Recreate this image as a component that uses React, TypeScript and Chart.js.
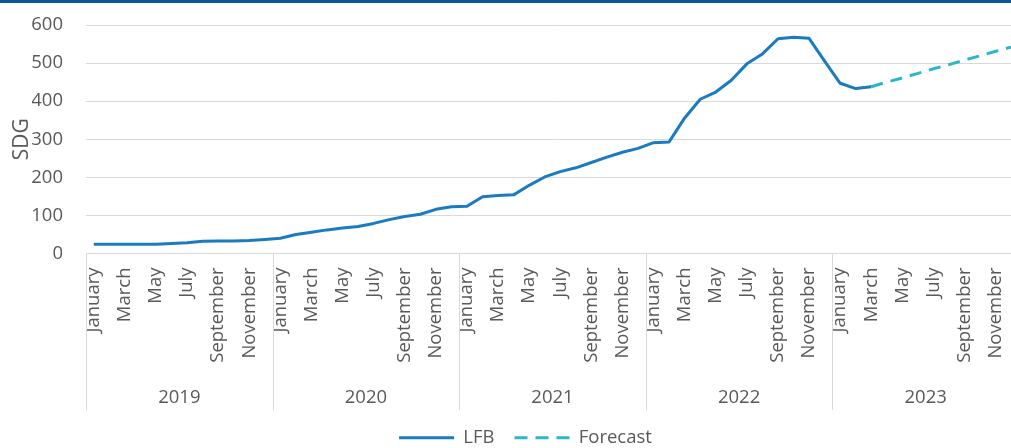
import React, { useEffect, useRef } from "react";
import { Chart, registerables } from "chart.js";

Chart.register(...registerables);

// ---- Data ----
const months = [
  "January", "February", "March", "April", "May", "June",
  "July", "August", "September", "October", "November", "December",
];
const years = ["2019", "2020", "2021", "2022", "2023"];

// LFB, January 2019 – March 2023
const lfbValues = [
  24, 24, 24, 24, 24, 26, 28, 32, 33, 33, 34, 37,
  40, 50, 56, 62, 67, 71, 79, 89, 97, 103, 116, 123,
  124, 149, 152, 154, 179, 201, 215, 225, 239, 253, 266, 276,
  291, 293, 356, 405, 424, 455, 498, 524, 564, 568, 565, 505,
  447, 433, 438,
];
// Forecast, March 2023 – December 2023
const forecastStartIndex = 50;
const forecastValues = [438, 450, 461, 473, 485, 496, 508, 519, 531, 542];

const yTicksMax = 600;
const yTicksStep = 100;

const LFB_COLOR = "#1a7bc1";
const FORECAST_COLOR = "#2bb7c8";
const TEXT_COLOR = "#595959";
const GRID_COLOR = "#d9d9d9";
const FONT = "'Open Sans', 'Noto Sans', sans-serif";
const FS = 18.5;

const yearGroupPlugin = {
  id: "yearGroups",
  afterDraw(chart: any) {
    const xs = chart.scales.x;
    const { ctx, chartArea } = chart;
    const n = xs.getLabels().length;
    const step = (xs.getPixelForValue(n - 1) - xs.getPixelForValue(0)) / (n - 1);
    const top = chartArea.bottom;
    ctx.save();
    ctx.strokeStyle = GRID_COLOR;
    ctx.lineWidth = 1;
    for (let k = 0; k <= years.length; k++) {
      const x =
        k * 12 < n
          ? xs.getPixelForValue(k * 12) - step / 2
          : xs.getPixelForValue(n - 1) + step / 2;
      const xr = Math.round(x) + 0.5;
      ctx.beginPath();
      ctx.moveTo(xr, top);
      ctx.lineTo(xr, top + 156.5);
      ctx.stroke();
    }
    ctx.fillStyle = TEXT_COLOR;
    ctx.font = `${FS}px ${FONT}`;
    ctx.textAlign = "center";
    ctx.textBaseline = "middle";
    years.forEach((yr, k) => {
      const a = xs.getPixelForValue(k * 12);
      const b = xs.getPixelForValue(k * 12 + 11);
      ctx.fillText(yr, (a + b) / 2, top + 144);
    });
    ctx.restore();
  },
};

export default function App() {
  const canvasRef = useRef<HTMLCanvasElement | null>(null);

  useEffect(() => {
    const canvas = canvasRef.current;
    if (!canvas) return;
    const labels = years.flatMap(() => months);
    const lfbData = labels.map((_, i) => (i < lfbValues.length ? lfbValues[i] : null));
    const fcData = labels.map((_, i) =>
      i >= forecastStartIndex && i < forecastStartIndex + forecastValues.length
        ? forecastValues[i - forecastStartIndex]
        : null
    );

    const chart = new Chart(canvas, {
      type: "line",
      data: {
        labels,
        datasets: [
          {
            label: "LFB",
            data: lfbData,
            borderColor: LFB_COLOR,
            backgroundColor: LFB_COLOR,
            borderWidth: 3,
            pointRadius: 0,
            tension: 0,
            borderJoinStyle: "round",
          },
          {
            label: "Forecast",
            data: fcData,
            borderColor: FORECAST_COLOR,
            backgroundColor: FORECAST_COLOR,
            borderWidth: 3,
            borderDash: [12, 8],
            pointRadius: 0,
            tension: 0,
          },
        ],
      },
      options: {
        animation: false,
        responsive: false,
        devicePixelRatio: 1,
        layout: { padding: { top: 25, right: 32, left: 32, bottom: -9 } },
        plugins: {
          tooltip: { enabled: false },
          legend: {
            position: "bottom",
            labels: {
              usePointStyle: true,
              pointStyleWidth: 55,
              padding: 20,
              color: TEXT_COLOR,
              font: { family: FONT, size: FS },
              generateLabels: (c: any) =>
                c.data.datasets.map((ds: any, i: number) => ({
                  text: ds.label,
                  fillStyle: ds.borderColor,
                  strokeStyle: ds.borderColor,
                  fontColor: TEXT_COLOR,
                  lineWidth: 3,
                  lineDash: i === 1 ? [13, 8] : [],
                  pointStyle: "line",
                  hidden: false,
                  datasetIndex: i,
                })),
            },
          },
        },
        scales: {
          x: {
            type: "category",
            offset: true,
            grid: { display: false, drawTicks: false },
            border: { display: true, color: GRID_COLOR, width: 1 },
            ticks: {
              autoSkip: false,
              minRotation: 90,
              maxRotation: 90,
              padding: 14,
              color: TEXT_COLOR,
              font: { family: FONT, size: FS },
              callback: (_v: any, i: number) => (i % 2 === 0 ? labels[i] : ""),
            },
            afterFit: (s: any) => {
              s.height = 155;
            },
          },
          y: {
            min: 0,
            max: yTicksMax,
            grid: { color: GRID_COLOR, drawTicks: false },
            border: { display: false },
            ticks: {
              stepSize: yTicksStep,
              padding: 23,
              color: TEXT_COLOR,
              font: { family: FONT, size: FS },
            },
            title: {
              display: true,
              text: "SDG",
              color: TEXT_COLOR,
              font: { family: FONT, size: 21 },
              padding: { top: -23, bottom: 0 },
            },
            afterFit: (s: any) => {
              s.width = 54;
              s.paddingTop = 0;
              s.paddingBottom = 0;
            },
          },
        },
      },
      plugins: [yearGroupPlugin],
    });
    return () => chart.destroy();
  }, []);

  return (
    <div
      style={{
        position: "fixed",
        left: 0,
        top: 0,
        width: 1011,
        height: 448,
        overflow: "hidden",
        background: "#ffffff",
      }}
    >
      <canvas
        ref={canvasRef}
        width={1051}
        height={448}
        style={{ display: "block", width: 1051, height: 448 }}
      />
      <div
        style={{
          position: "absolute",
          left: 0,
          top: 0,
          width: 1011,
          height: 3,
          background: "#0b5799",
        }}
      />
    </div>
  );
}
